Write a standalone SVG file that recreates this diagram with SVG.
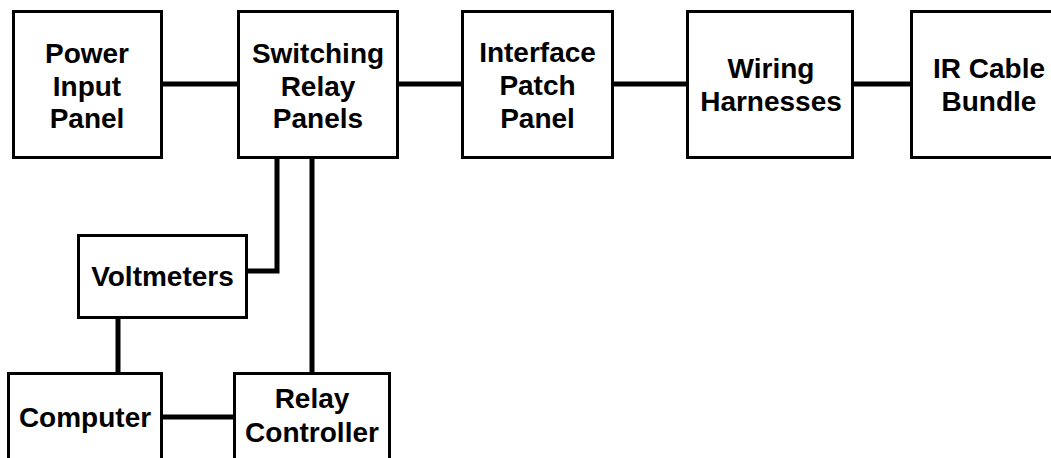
<svg xmlns="http://www.w3.org/2000/svg" width="1051" height="458" viewBox="0 0 1051 458">
  <style>
    .box { fill: #ffffff; stroke: #000000; stroke-width: 3; }
    .wire { fill: none; stroke: #000000; stroke-width: 5; stroke-linecap: butt; stroke-linejoin: miter; }
    .lbl { font-family: "Liberation Sans", Arial, sans-serif; font-weight: bold; font-size: 28px; fill: #000000; text-anchor: middle; }
  </style>
  <rect width="1051" height="458" fill="#ffffff"/>

  <!-- wiring between units -->
  <g id="connectors">
    <path class="wire" d="M163,84 H237"/>
    <path class="wire" d="M399,84 H461"/>
    <path class="wire" d="M614,84 H686"/>
    <path class="wire" d="M854,84 H910"/>
    <path class="wire" d="M277,159 V271 H248"/>
    <path class="wire" d="M312,159 V372"/>
    <path class="wire" d="M118,319 V372"/>
    <path class="wire" d="M163,417 H233"/>
  </g>

  <g id="power-input-panel">
    <rect class="box" x="13.5" y="11.5" width="148" height="146"/>
    <text class="lbl" x="87" y="63">Power</text>
    <text class="lbl" x="87" y="96">Input</text>
    <text class="lbl" x="87" y="128">Panel</text>
  </g>

  <g id="switching-relay-panels">
    <rect class="box" x="238.5" y="11.5" width="159" height="146"/>
    <text class="lbl" x="318" y="63">Switching</text>
    <text class="lbl" x="318" y="96">Relay</text>
    <text class="lbl" x="318" y="128">Panels</text>
  </g>

  <g id="interface-patch-panel">
    <rect class="box" x="462.5" y="11.5" width="150" height="146"/>
    <text class="lbl" x="537.5" y="62">Interface</text>
    <text class="lbl" x="537.5" y="95">Patch</text>
    <text class="lbl" x="537.5" y="128">Panel</text>
  </g>

  <g id="wiring-harnesses">
    <rect class="box" x="687.5" y="11.5" width="165" height="146"/>
    <text class="lbl" x="771" y="78">Wiring</text>
    <text class="lbl" x="771" y="111">Harnesses</text>
  </g>

  <g id="ir-cable-bundle">
    <rect class="box" x="911.5" y="11.5" width="153" height="146"/>
    <text class="lbl" x="989" y="78">IR Cable</text>
    <text class="lbl" x="989" y="111">Bundle</text>
  </g>

  <g id="voltmeters">
    <rect class="box" x="78.5" y="235.5" width="168" height="82"/>
    <text class="lbl" x="162.5" y="286">Voltmeters</text>
  </g>

  <g id="computer">
    <rect class="box" x="8.5" y="373.5" width="153" height="100"/>
    <text class="lbl" x="85" y="427">Computer</text>
  </g>

  <g id="relay-controller">
    <rect class="box" x="234.5" y="373.5" width="155" height="100"/>
    <text class="lbl" x="312" y="408">Relay</text>
    <text class="lbl" x="312" y="442">Controller</text>
  </g>
</svg>
